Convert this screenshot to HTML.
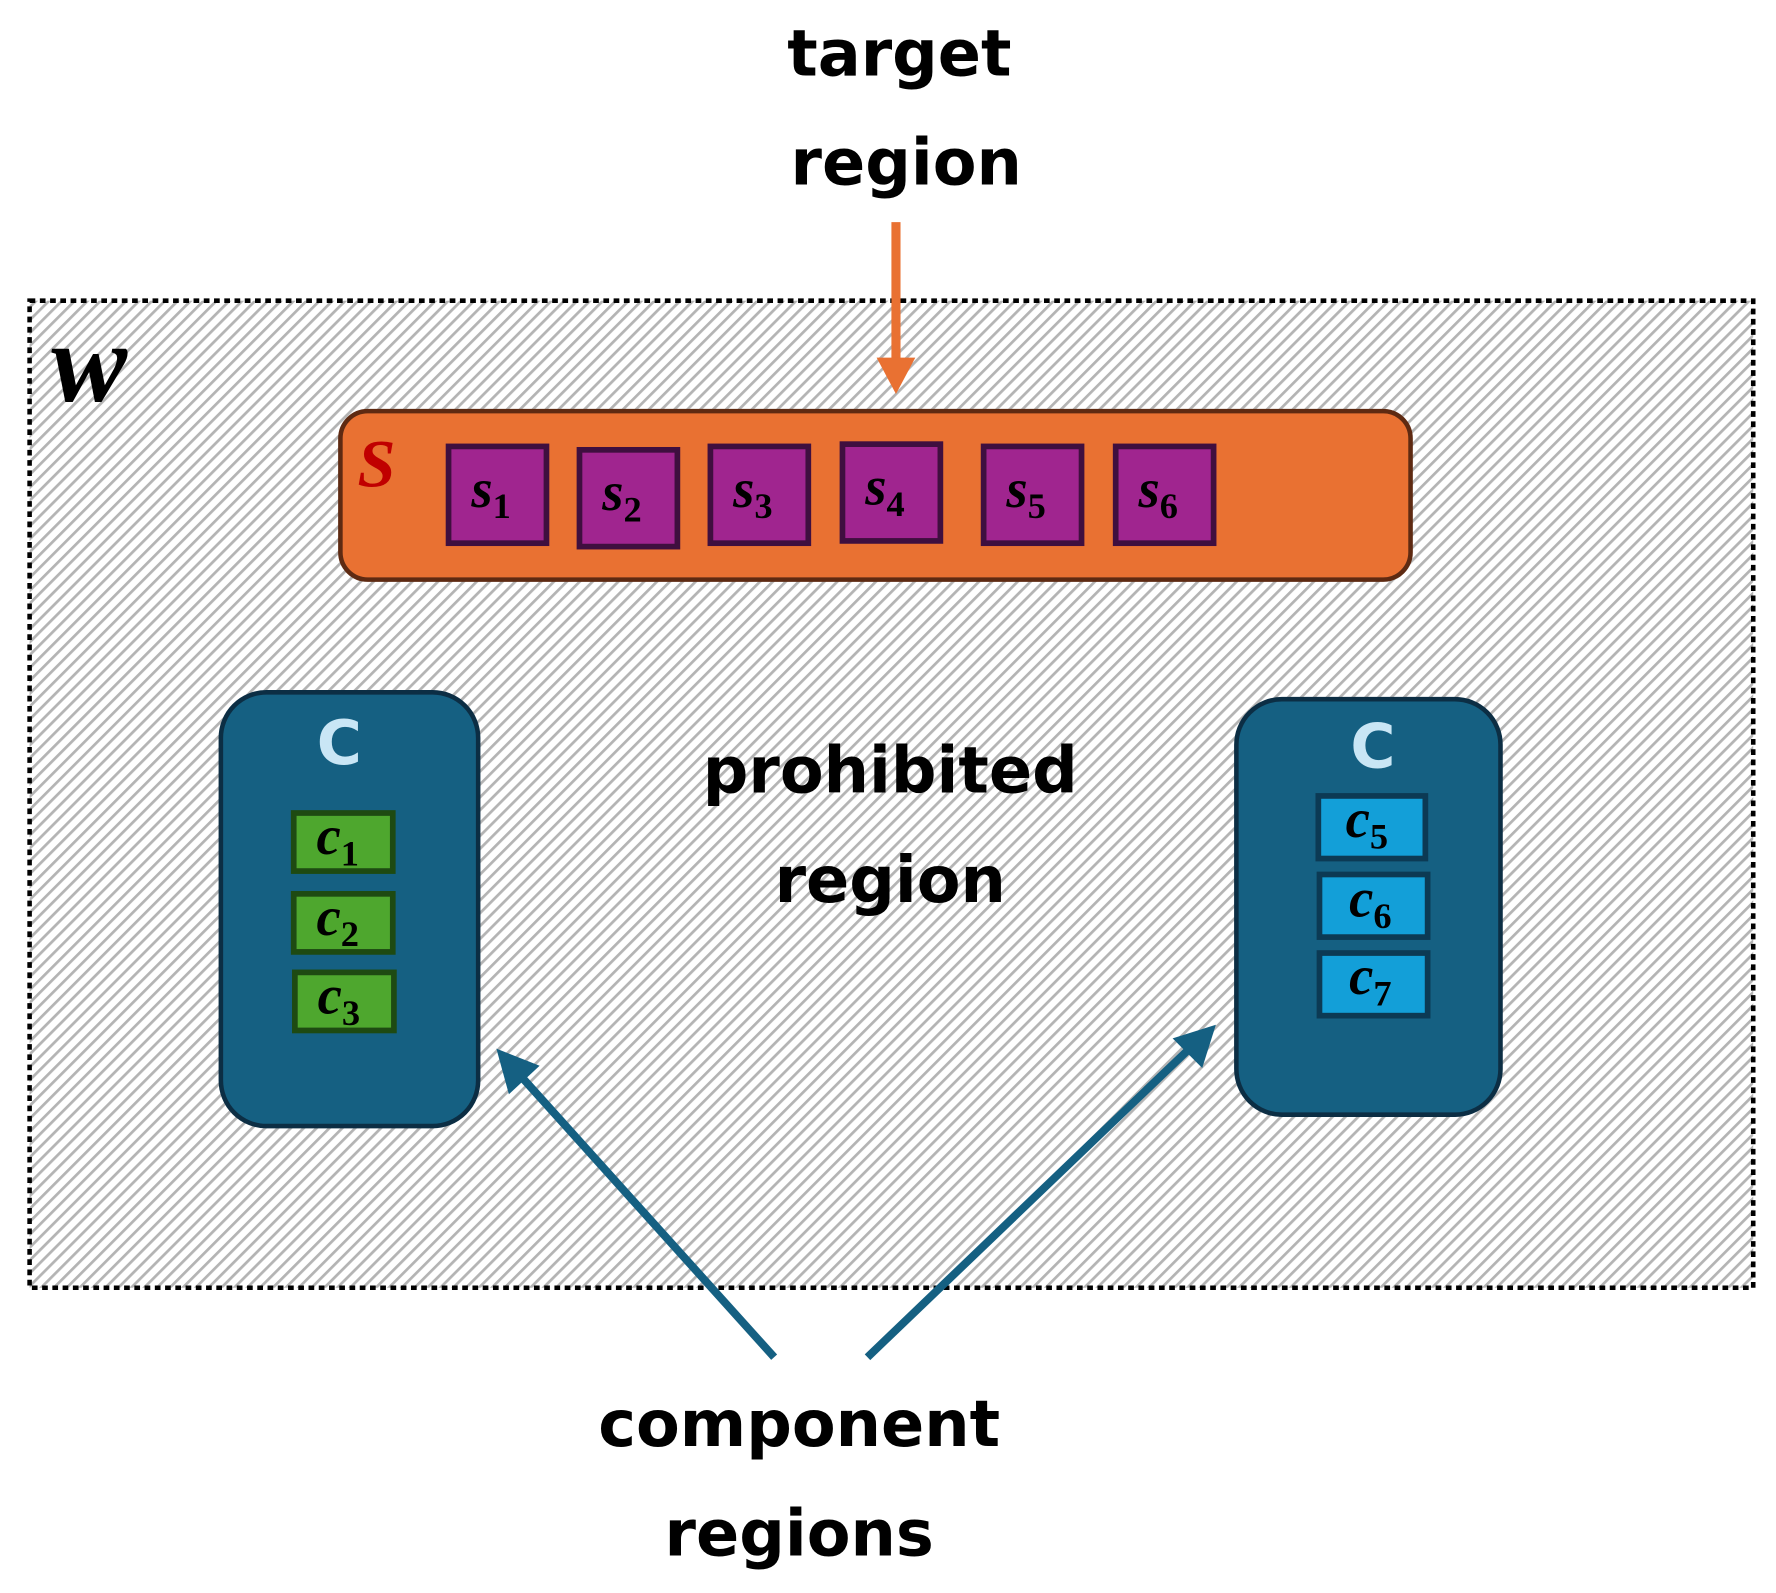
<!DOCTYPE html>
<html><head><meta charset="utf-8"><style>
html,body{margin:0;padding:0;background:#fff;}
svg{display:block}
.t{font-family:"DejaVu Sans","Liberation Sans",sans-serif;font-weight:bold;fill:#000;text-anchor:middle}
.m{font-family:"Liberation Serif",serif;font-style:italic;font-weight:bold;fill:#000}
.sub{font-family:"Liberation Serif",serif;font-weight:bold;font-style:normal}
</style></head><body>
<svg width="1776" height="1593" viewBox="0 0 1560 1399" xmlns="http://www.w3.org/2000/svg">
<defs>
<pattern id="h" width="8" height="8" patternUnits="userSpaceOnUse" patternTransform="rotate(45)">
<rect width="8" height="8" fill="#fff"/>
<rect x="0" y="0" width="2.4" height="8" fill="#b4b4b4"/>
</pattern>
</defs>
<rect x="26" y="264" width="1514" height="867" fill="url(#h)" stroke="#000" stroke-width="4" stroke-dasharray="5,4"/>
<text x="45" y="352" class="m" font-size="100" style="font-family:'Liberation Serif',serif">w</text>

<text x="790" y="66" class="t" font-size="56">target</text>
<text x="796" y="162" class="t" font-size="56">region</text>
<line x1="787" y1="195" x2="787" y2="318" stroke="#e97132" stroke-width="8"/>
<polygon points="770,314 804,314 787,346" fill="#e97132"/>

<rect x="299" y="361" width="940" height="148" rx="24" fill="#e97132" stroke="#5e2a12" stroke-width="4"/>
<text x="314" y="427" class="m" font-size="60" style="fill:#c00000">S</text>
<g stroke="#3f0f3f" stroke-width="5" fill="#a0258f">
<rect x="394" y="392" width="86" height="85"/>
<rect x="509" y="395" width="86" height="85"/>
<rect x="624" y="392" width="86" height="85"/>
<rect x="740" y="390" width="86" height="85"/>
<rect x="864" y="392" width="86" height="85"/>
<rect x="980" y="392" width="86" height="85"/>
</g>
<g font-size="48">
<text x="414" y="445" class="m">s<tspan class="sub" font-size="32" dy="10">1</tspan></text>
<text x="529" y="448" class="m">s<tspan class="sub" font-size="32" dy="10">2</tspan></text>
<text x="644" y="445" class="m">s<tspan class="sub" font-size="32" dy="10">3</tspan></text>
<text x="760" y="443" class="m">s<tspan class="sub" font-size="32" dy="10">4</tspan></text>
<text x="884" y="445" class="m">s<tspan class="sub" font-size="32" dy="10">5</tspan></text>
<text x="1000" y="445" class="m">s<tspan class="sub" font-size="32" dy="10">6</tspan></text>
</g>

<rect x="194" y="608" width="226" height="381" rx="40" fill="#156082" stroke="#0c2e44" stroke-width="4"/>
<text x="298" y="671" class="t" font-size="54" style="fill:#c9e6f5">C</text>
<g stroke="#1e4a12" stroke-width="5" fill="#4ea72e">
<rect x="258" y="714" width="87" height="51"/>
<rect x="258" y="785" width="87" height="51"/>
<rect x="259" y="854" width="87" height="51"/>
</g>
<g font-size="48">
<text x="278" y="750" class="m">c<tspan class="sub" font-size="32" dy="10">1</tspan></text>
<text x="278" y="821" class="m">c<tspan class="sub" font-size="32" dy="10">2</tspan></text>
<text x="279" y="890" class="m">c<tspan class="sub" font-size="32" dy="10">3</tspan></text>
</g>

<rect x="1086" y="614" width="232" height="365" rx="40" fill="#156082" stroke="#0c2e44" stroke-width="4"/>
<text x="1206" y="674" class="t" font-size="54" style="fill:#c9e6f5">C</text>
<g stroke="#0c3a54" stroke-width="5" fill="#139fd8">
<rect x="1158" y="699" width="94" height="55"/>
<rect x="1159" y="768" width="95" height="55"/>
<rect x="1159" y="837" width="95" height="55"/>
</g>
<g font-size="48">
<text x="1182" y="735" class="m">c<tspan class="sub" font-size="32" dy="10">5</tspan></text>
<text x="1185" y="805" class="m">c<tspan class="sub" font-size="32" dy="10">6</tspan></text>
<text x="1185" y="873" class="m">c<tspan class="sub" font-size="32" dy="10">7</tspan></text>
</g>

<text x="782" y="696" class="t" font-size="56">prohibited</text>
<text x="782" y="792" class="t" font-size="56">region</text>

<g stroke="#156082" stroke-width="7">
<line x1="680" y1="1192" x2="452" y2="939"/>
<line x1="762" y1="1192" x2="1050" y2="916"/>
</g>
<polygon points="436,921 474,936 447,961" fill="#156082"/>
<polygon points="1068,900 1056,938 1030,912" fill="#156082"/>

<text x="702" y="1270" class="t" font-size="56">component</text>
<text x="702" y="1366" class="t" font-size="56">regions</text>
</svg>
</body></html>
